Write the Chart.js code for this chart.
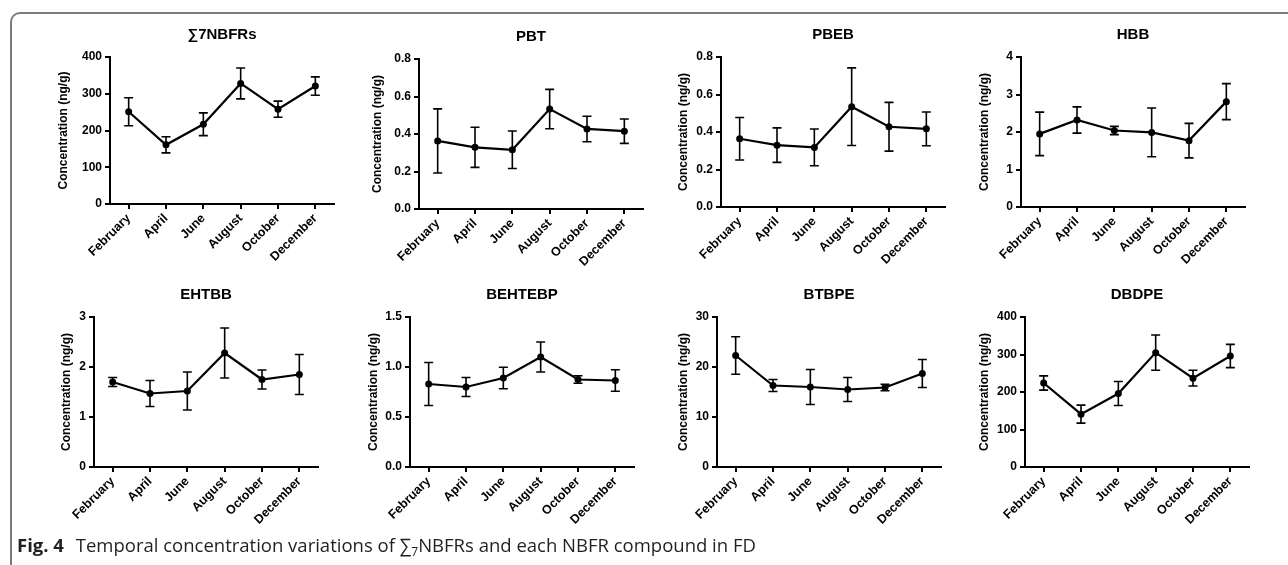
<!doctype html>
<html lang="en">
<head>
<meta charset="utf-8">
<title>Temporal concentration variations of NBFRs in FD</title>
<style>
  body { margin: 0; background: #fff; width: 1288px; height: 565px; overflow: hidden; position: relative; }
  .frame { position: absolute; left: 10px; top: 12px; width: 1320px; height: 600px;
           border-top: 2px solid #7b7b7b; border-left: 2px solid #7b7b7b; border-top-left-radius: 10px; }
  canvas { position: absolute; }
  .caption { position: absolute; left: 17px; top: 532px; font-family: "Open Sans"; font-size: 18.5px;
             color: #231f20; white-space: nowrap; }
  .caption b { font-weight: 700; margin-right: 7px; }
  .caption sub { font-size: 12px; vertical-align: -4px; line-height: 0; }
</style>
</head>
<body>
<div class="frame"></div>
<div id="panels"></div>
<div class="caption"><b>Fig. 4</b> Temporal concentration variations of ∑<sub>7</sub>NBFRs and each NBFR compound in FD</div>

<script src="https://cdn.jsdelivr.net/npm/chart.js"></script>
<script>
// months on the x axis
const months = ['February', 'April', 'June', 'August', 'October', 'December'];

// mean values and error (SD) for each compound
const sumNbfrMean = [251, 161, 217, 328, 258, 321];
const sumNbfrErr  = [38, 22, 31, 42, 22, 25];
const pbtMean = [0.363, 0.329, 0.316, 0.533, 0.427, 0.415];
const pbtErr  = [0.171, 0.107, 0.100, 0.105, 0.068, 0.065];
const pbebMean = [0.364, 0.330, 0.318, 0.535, 0.428, 0.417];
const pbebErr  = [0.113, 0.092, 0.098, 0.207, 0.130, 0.090];
const hbbMean = [1.95, 2.32, 2.04, 1.99, 1.77, 2.81];
const hbbErr  = [0.58, 0.35, 0.11, 0.65, 0.46, 0.48];
const ehtbbMean = [1.70, 1.47, 1.52, 2.28, 1.75, 1.85];
const ehtbbErr  = [0.09, 0.26, 0.38, 0.50, 0.19, 0.40];
const behtebpMean = [0.83, 0.80, 0.89, 1.10, 0.875, 0.865];
const behtebpErr  = [0.215, 0.095, 0.107, 0.150, 0.038, 0.108];
const btbpeMean = [22.3, 16.3, 16.0, 15.5, 15.9, 18.7];
const btbpeErr  = [3.75, 1.2, 3.5, 2.4, 0.65, 2.8];
const dbdpeMean = [224, 141, 196, 305, 237, 296];
const dbdpeErr  = [19, 24, 32, 47, 21, 31];

// panel titles and y tick settings
const panelTitles = ['∑7NBFRs', 'PBT', 'PBEB', 'HBB', 'EHTBB', 'BEHTEBP', 'BTBPE', 'DBDPE'];
const yMax   = [400, 0.8, 0.8, 4, 3, 1.5, 30, 400];
const yStep  = [100, 0.2, 0.2, 1, 1, 0.5, 10, 100];
const yDecimals = [0, 1, 1, 0, 0, 1, 0, 0];

const means = [sumNbfrMean, pbtMean, pbebMean, hbbMean, ehtbbMean, behtebpMean, btbpeMean, dbdpeMean];
const errs  = [sumNbfrErr, pbtErr, pbebErr, hbbErr, ehtbbErr, behtebpErr, btbpeErr, dbdpeErr];

// page placement of each plot: y axis x, plot top, plot bottom, gap from axis to y title
const placement = [
  [110, 57, 204, 47], [419, 59, 209, 42], [721, 57, 207, 38], [1021, 57, 207, 37],
  [94, 317, 467, 28], [410, 317, 467, 37], [717, 317, 467, 34], [1025, 317, 467, 41]
];
const plotWidth = 224;
const topSpace = 34;
const bottomSpace = 72;
const fontFamily = '"Liberation Sans", Arial, Helvetica, sans-serif';

// error bars with caps
const errorBars = {
  id: 'errorBars',
  beforeDatasetsDraw(chart) {
    const ctx = chart.ctx;
    const xs = chart.scales.x, ys = chart.scales.y;
    const ds = chart.data.datasets[0];
    ctx.save();
    ctx.strokeStyle = '#000';
    ctx.lineWidth = 1.6;
    ds.data.forEach((v, i) => {
      const px = xs.getPixelForValue(i);
      const hi = ys.getPixelForValue(v + ds.errors[i]);
      const lo = ys.getPixelForValue(v - ds.errors[i]);
      ctx.beginPath();
      ctx.moveTo(px, hi); ctx.lineTo(px, lo);
      ctx.moveTo(px - 4.5, hi); ctx.lineTo(px + 4.5, hi);
      ctx.moveTo(px - 4.5, lo); ctx.lineTo(px + 4.5, lo);
      ctx.stroke();
    });
    ctx.restore();
  }
};

// panel title centred over the plot area
const panelTitle = {
  id: 'panelTitle',
  afterDraw(chart) {
    const a = chart.chartArea;
    const ctx = chart.ctx;
    ctx.save();
    ctx.fillStyle = '#000';
    ctx.font = 'bold 15px ' + fontFamily;
    ctx.textAlign = 'center';
    ctx.textBaseline = 'middle';
    ctx.fillText(chart.config.options.panelName, (a.left + a.right) / 2, a.top - 22);
    ctx.restore();
  }
};

const holder = document.getElementById('panels');

panelTitles.forEach((name, k) => {
  const [axisX, top, bottom, gap] = placement[k];
  const yW = gap + 7;
  const cv = document.createElement('canvas');
  cv.width = yW + plotWidth + 12;
  cv.height = topSpace + (bottom - top) + bottomSpace;
  cv.style.left = (axisX - yW) + 'px';
  cv.style.top = (top - topSpace) + 'px';
  holder.appendChild(cv);

  new Chart(cv, {
    type: 'line',
    data: {
      labels: months,
      datasets: [{
        data: means[k],
        errors: errs[k],
        borderColor: '#000',
        borderWidth: 2.2,
        backgroundColor: '#000',
        pointRadius: 3.5,
        pointBackgroundColor: '#000',
        pointBorderWidth: 0,
        tension: 0
      }]
    },
    plugins: [errorBars, panelTitle],
    options: {
      panelName: name,
      responsive: false,
      animation: false,
      devicePixelRatio: 1,
      layout: { padding: { top: topSpace, right: 12, left: 0, bottom: 0 } },
      plugins: { legend: { display: false }, tooltip: { enabled: false } },
      scales: {
        x: {
          offset: true,
          afterFit: s => { s.height = bottomSpace; },
          border: { color: '#000', width: 2 },
          grid: { offset: false, drawOnChartArea: false, color: '#000', lineWidth: 2, tickLength: 5 },
          ticks: {
            color: '#000', minRotation: 45, maxRotation: 45, padding: 2,
            font: { family: fontFamily, weight: 'bold', size: 12.5 }
          }
        },
        y: {
          min: 0,
          max: yMax[k],
          afterFit: s => { s.width = yW; },
          border: { color: '#000', width: 2 },
          grid: { drawOnChartArea: false, color: '#000', lineWidth: 2, tickLength: 5 },
          ticks: {
            stepSize: yStep[k], color: '#000', padding: 3,
            font: { family: fontFamily, weight: 'bold', size: 12 },
            callback: v => Number(v).toFixed(yDecimals[k])
          },
          title: {
            display: true, text: 'Concentration (ng/g)', color: '#000',
            padding: { top: 0, bottom: 0 },
            font: { family: fontFamily, weight: 'bold', size: 12 }
          }
        }
      }
    }
  });
});
</script>
</body>
</html>
